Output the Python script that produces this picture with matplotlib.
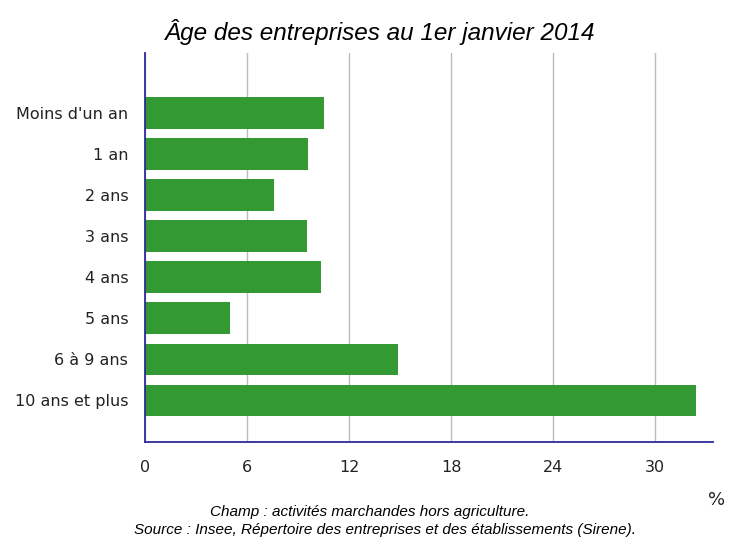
import matplotlib.pyplot as plt

# données
categories = ["Moins d'un an", "1 an", "2 ans", "3 ans", "4 ans", "5 ans",
              "6 à 9 ans", "10 ans et plus"]
valeurs = [10.5, 9.6, 7.6, 9.5, 10.35, 5.0, 14.9, 32.4]
ticks = [0, 6, 12, 18, 24, 30]

fig = plt.figure(figsize=(7.29, 5.59), dpi=100)
ax = fig.add_axes([145 / 729, 1 - 442 / 559, (713 - 145) / 729, (442 - 53) / 559])

ax.barh(range(len(categories)), valeurs, height=0.76, color="#339933", zorder=2)
ax.set_xlim(0, 33.4)
ax.set_ylim(8.02, -1.46)
ax.set_yticks(range(len(categories)))
ax.set_yticklabels(categories, fontsize=11.5, color="#222222", family="DejaVu Sans")
ax.set_xticks(ticks)
ax.set_xticklabels([str(t) for t in ticks], fontsize=11.5, color="#222222", family="DejaVu Sans")
ax.tick_params(axis="y", length=0, pad=12)
ax.tick_params(axis="x", length=0, pad=13)
ax.grid(axis="x", color="#bbbbbb", linewidth=1, zorder=1)

for s in ["top", "right"]:
    ax.spines[s].set_visible(False)
for s in ["left", "bottom"]:
    ax.spines[s].set_color("#2b2b9b")
    ax.spines[s].set_linewidth(1.3)

fig.text(380 / 729, 1 - 32 / 559, "Âge des entreprises au 1er janvier 2014",
         ha="center", va="center", fontsize=17.5, style="italic", family="Liberation Sans")
fig.text(717 / 729, 1 - 500 / 559, "%", ha="center", va="center", fontsize=13, color="#222222")
fig.text(370 / 729, 1 - 512 / 559, "Champ : activités marchandes hors agriculture.",
         ha="center", va="center", fontsize=11, style="italic", family="Liberation Sans")
fig.text(385 / 729, 1 - 530 / 559,
         "Source : Insee, Répertoire des entreprises et des établissements (Sirene).",
         ha="center", va="center", fontsize=11, style="italic", family="Liberation Sans")

plt.savefig("out.png", dpi=100)
